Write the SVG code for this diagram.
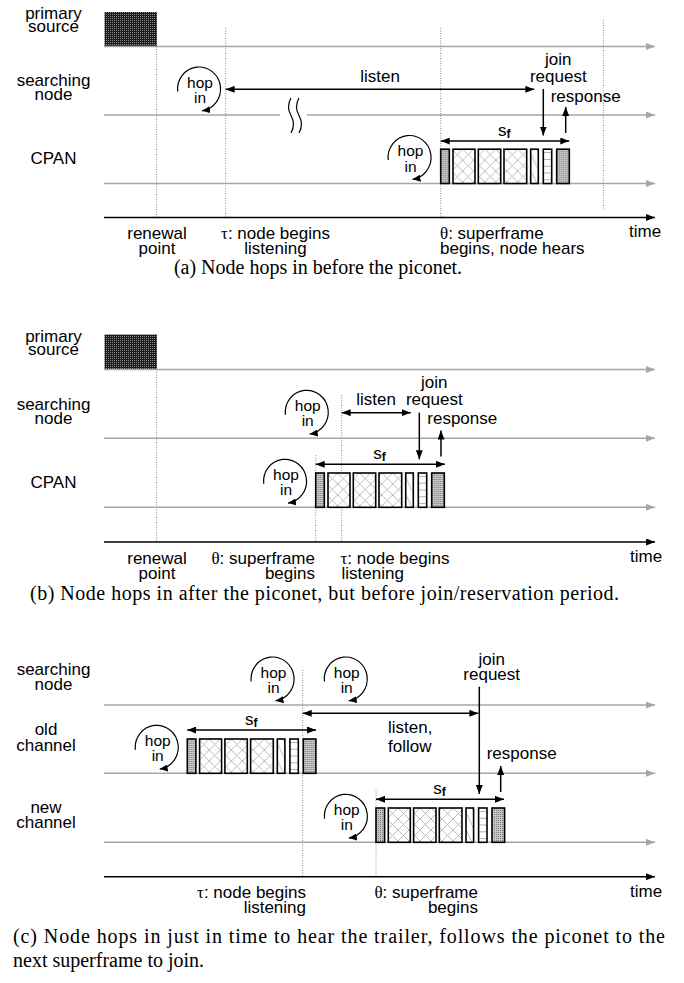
<svg xmlns="http://www.w3.org/2000/svg" xmlns:xlink="http://www.w3.org/1999/xlink" width="684" height="983" viewBox="0 0 684 983">
<style>
.lb{font-family:"Liberation Sans",Arial,sans-serif;font-size:17px;fill:#000}
.hp{font-family:"Liberation Sans",Arial,sans-serif;font-size:15.5px;fill:#000;text-anchor:middle}
.c{text-anchor:middle}
.e{text-anchor:end}
.gr{font-family:"Liberation Serif","Times New Roman",serif}
.cap{font-family:"Liberation Serif","Times New Roman",serif;font-size:20px;fill:#000}
.lane{stroke:#a6a6a6;stroke-width:1.4;fill:none}
.axis{stroke:#000;stroke-width:1.5;fill:none}
.dot{stroke:#8c8c8c;stroke-width:1;stroke-dasharray:1 1.5;fill:none}
.arr{stroke:#000;stroke-width:1.5;fill:none}
.hop{stroke:#000;stroke-width:1.2;fill:none}
.blk{stroke:#000;stroke-width:1.6}
</style>
<defs>
<marker id="ah" viewBox="0 0 9 7" refX="9" refY="3.5" markerWidth="9" markerHeight="7" markerUnits="userSpaceOnUse" orient="auto-start-reverse"><path d="M0,0L9,3.5L0,7z" fill="#000"/></marker>
<marker id="ag" viewBox="0 0 9 7" refX="9" refY="3.5" markerWidth="9" markerHeight="7" markerUnits="userSpaceOnUse" orient="auto"><path d="M0,0L9,3.5L0,7z" fill="#a6a6a6"/></marker>
<marker id="ahh" viewBox="0 0 8 7" refX="8" refY="3.5" markerWidth="8" markerHeight="7" markerUnits="userSpaceOnUse" orient="auto"><path d="M0,0L8,3.5L0,7z" fill="#000"/></marker>
<pattern id="pDark" width="2" height="2" patternUnits="userSpaceOnUse"><rect width="2" height="2" fill="#1c1c1c"/><rect width="1" height="1" fill="#8a8a8a"/></pattern>
<pattern id="pLight" width="2" height="2" patternUnits="userSpaceOnUse"><rect width="2" height="2" fill="#c6c6c6"/><rect width="1" height="1" fill="#7c7c7c"/></pattern>
<pattern id="pX" width="11" height="11" patternUnits="userSpaceOnUse"><rect width="11" height="11" fill="#fff"/><path d="M0,0L11,11M11,0L0,11" stroke="#b4b4b4" stroke-width="0.9"/></pattern>
<pattern id="pD" width="8" height="17" patternUnits="userSpaceOnUse"><rect width="8" height="17" fill="#fff"/><path d="M0,0L8,17" stroke="#b4b4b4" stroke-width="0.9"/></pattern>
<pattern id="pH" width="8" height="6.8" patternUnits="userSpaceOnUse"><rect width="8" height="6.8" fill="#fff"/><path d="M0,3.4H8" stroke="#a8a8a8" stroke-width="0.9"/></pattern>
<g id="sf">
<rect class="blk" x="0" y="0" width="8.6" height="34.3" fill="url(#pLight)"/>
<rect class="blk" x="12.3" y="0" width="22" height="34.3" fill="url(#pX)"/>
<rect class="blk" x="37.6" y="0" width="22.4" height="34.3" fill="url(#pX)"/>
<rect class="blk" x="63.3" y="0" width="22.7" height="34.3" fill="url(#pX)"/>
<rect class="blk" x="90" y="0" width="7.6" height="34.3" fill="url(#pD)"/>
<rect class="blk" x="102.6" y="0" width="8.4" height="34.3" fill="url(#pH)"/>
<rect class="blk" x="116" y="0" width="12.6" height="34.3" fill="url(#pLight)"/>
</g>
</defs>
<rect width="684" height="983" fill="#fff"/>

<!-- ================= PANEL A ================= -->
<g id="panel-a">
<g id="a-labels">
<text class="lb c" x="53.5" y="18.5">primary</text>
<text class="lb c" x="53.5" y="31.5">source</text>
<text class="lb c" x="53.5" y="86">searching</text>
<text class="lb c" x="53.5" y="100">node</text>
<text class="lb c" x="53.5" y="164">CPAN</text>
</g>
<g id="a-source"><rect x="104.5" y="12" width="52.5" height="34.5" fill="url(#pDark)"/></g>
<g id="a-lanes">
<line class="lane" x1="104" y1="46.5" x2="655" y2="46.5" marker-end="url(#ag)"/>
<line class="lane" x1="104" y1="115" x2="280" y2="115"/>
<line class="lane" x1="307" y1="115" x2="655" y2="115" marker-end="url(#ag)"/>
<line class="lane" x1="104" y1="183.5" x2="655" y2="183.5" marker-end="url(#ag)"/>
<path class="hop" d="M291,98q-5,8.75 0,17.5q5,8.75 0,17.5M299,98q-5,8.75 0,17.5q5,8.75 0,17.5"/>
</g>
<g id="a-dotted">
<line class="dot" x1="156.7" y1="46.5" x2="156.7" y2="217"/>
<line class="dot" x1="225.7" y1="28" x2="225.7" y2="217"/>
<line class="dot" x1="440.7" y1="28" x2="440.7" y2="217"/>
<line class="dot" x1="603.3" y1="20" x2="603.3" y2="210"/>
</g>
<g id="a-axis">
<line class="axis" x1="104" y1="217.5" x2="655" y2="217.5" marker-end="url(#ah)"/>
<text class="lb c" x="157" y="239">renewal</text>
<text class="lb c" x="157" y="254">point</text>
<text class="lb c" x="275.5" y="239"><tspan class="gr">τ</tspan>: node begins</text>
<text class="lb c" x="275.5" y="254">listening</text>
<text class="lb" x="440" y="239"><tspan class="gr">θ</tspan>: superframe</text>
<text class="lb" x="440" y="254">begins, node hears</text>
<text class="lb" x="629" y="237">time</text>
</g>
<g id="a-hop-search" transform="translate(199,89)">
<path class="hop" d="M-21.3,2.5A21.5 22 0 1 1 3,21.8" marker-end="url(#ahh)"/>
<text class="hp" x="1" y="-1.5">hop</text><text class="hp" x="1" y="14">in</text>
</g>
<g id="a-hop-cpan" transform="translate(409.5,157.5)">
<path class="hop" d="M-21.3,2.5A21.5 22 0 1 1 3,21.8" marker-end="url(#ahh)"/>
<text class="hp" x="1" y="-1.5">hop</text><text class="hp" x="1" y="14">in</text>
</g>
<g id="a-superframe">
<use xlink:href="#sf" href="#sf" x="440.7" y="149.2"/>
<text class="lb" x="498" y="136">s<tspan font-size="12" font-weight="bold" dy="1.5">f</tspan></text>
</g>
<g id="a-connectors">
<line class="arr" x1="225.7" y1="89.3" x2="534.3" y2="89.3" marker-start="url(#ah)" marker-end="url(#ah)"/>
<text class="lb c" x="380" y="82">listen</text>
<line class="arr" x1="440.7" y1="141" x2="569.3" y2="141" marker-start="url(#ah)" marker-end="url(#ah)"/>
<line class="arr" x1="543.3" y1="89" x2="543.3" y2="135.5" marker-end="url(#ah)"/>
<line class="arr" x1="565.7" y1="133" x2="565.7" y2="107" marker-end="url(#ah)"/>
<text class="lb c" x="558.3" y="65">join</text>
<text class="lb c" x="558.3" y="81.7">request</text>
<text class="lb" x="550.7" y="101.7">response</text>
</g>
<text class="cap c" x="318" y="274">(a) Node hops in before the piconet.</text>
</g>

<!-- ================= PANEL B ================= -->
<g id="panel-b">
<g id="b-labels">
<text class="lb c" x="53.5" y="341.5">primary</text>
<text class="lb c" x="53.5" y="354.5">source</text>
<text class="lb c" x="53.5" y="409.5">searching</text>
<text class="lb c" x="53.5" y="423.5">node</text>
<text class="lb c" x="53.5" y="487.5">CPAN</text>
</g>
<g id="b-source"><rect x="104.5" y="334.5" width="52.5" height="35" fill="url(#pDark)"/></g>
<g id="b-lanes">
<line class="lane" x1="104" y1="369.5" x2="655" y2="369.5" marker-end="url(#ag)"/>
<line class="lane" x1="104" y1="438.3" x2="655" y2="438.3" marker-end="url(#ag)"/>
<line class="lane" x1="104" y1="507.3" x2="655" y2="507.3" marker-end="url(#ag)"/>
</g>
<g id="b-dotted">
<line class="dot" x1="156.7" y1="369.5" x2="156.7" y2="541"/>
<line class="dot" x1="315.7" y1="455" x2="315.7" y2="541"/>
<line class="dot" x1="341.7" y1="395" x2="341.7" y2="541"/>
</g>
<g id="b-axis">
<line class="axis" x1="104" y1="542" x2="655" y2="542" marker-end="url(#ah)"/>
<text class="lb c" x="157" y="563.5">renewal</text>
<text class="lb c" x="157" y="578.5">point</text>
<text class="lb e" x="315" y="563.5"><tspan class="gr">θ</tspan>: superframe</text>
<text class="lb e" x="315" y="578.5">begins</text>
<text class="lb" x="340.5" y="563.5"><tspan class="gr">τ</tspan>: node begins</text>
<text class="lb" x="341.5" y="578.5">listening</text>
<text class="lb" x="630" y="562">time</text>
</g>
<g id="b-hop-search" transform="translate(306.7,412.3)">
<path class="hop" d="M-21.3,2.5A21.5 22 0 1 1 3,21.8" marker-end="url(#ahh)"/>
<text class="hp" x="1" y="-1.5">hop</text><text class="hp" x="1" y="14">in</text>
</g>
<g id="b-hop-cpan" transform="translate(285,481.3)">
<path class="hop" d="M-21.3,2.5A21.5 22 0 1 1 3,21.8" marker-end="url(#ahh)"/>
<text class="hp" x="1" y="-1.5">hop</text><text class="hp" x="1" y="14">in</text>
</g>
<g id="b-superframe">
<use xlink:href="#sf" href="#sf" x="315.7" y="473"/>
<text class="lb" x="373.3" y="459.3">s<tspan font-size="12" font-weight="bold" dy="1.5">f</tspan></text>
</g>
<g id="b-connectors">
<line class="arr" x1="341.7" y1="412.7" x2="410.7" y2="412.7" marker-start="url(#ah)" marker-end="url(#ah)"/>
<text class="lb c" x="376" y="405">listen</text>
<line class="arr" x1="315.7" y1="464.3" x2="445" y2="464.3" marker-start="url(#ah)" marker-end="url(#ah)"/>
<line class="arr" x1="419.3" y1="412.7" x2="419.3" y2="459.3" marker-end="url(#ah)"/>
<line class="arr" x1="441" y1="456.5" x2="441" y2="430.5" marker-end="url(#ah)"/>
<text class="lb c" x="434.3" y="388.4">join</text>
<text class="lb c" x="434.3" y="405">request</text>
<text class="lb" x="427.3" y="424">response</text>
</g>
<text class="cap" x="30" y="600" textLength="589" lengthAdjust="spacing">(b) Node hops in after the piconet, but before join/reservation period.</text>
</g>

<!-- ================= PANEL C ================= -->
<g id="panel-c">
<g id="c-labels">
<text class="lb c" x="53.5" y="675">searching</text>
<text class="lb c" x="53.5" y="689.5">node</text>
<text class="lb c" x="46" y="735">old</text>
<text class="lb c" x="46" y="751">channel</text>
<text class="lb c" x="46" y="812.5">new</text>
<text class="lb c" x="46" y="828">channel</text>
</g>
<g id="c-lanes">
<line class="lane" x1="104" y1="705" x2="655" y2="705" marker-end="url(#ag)"/>
<line class="lane" x1="104" y1="773.3" x2="655" y2="773.3" marker-end="url(#ag)"/>
<line class="lane" x1="104" y1="842.3" x2="655" y2="842.3" marker-end="url(#ag)"/>
</g>
<g id="c-dotted">
<line class="dot" x1="302.7" y1="670" x2="302.7" y2="876"/>
<line class="dot" x1="376" y1="790" x2="376" y2="876"/>
</g>
<g id="c-axis">
<line class="axis" x1="104" y1="876.7" x2="655" y2="876.7" marker-end="url(#ah)"/>
<text class="lb e" x="306" y="898"><tspan class="gr">τ</tspan>: node begins</text>
<text class="lb e" x="306" y="913">listening</text>
<text class="lb e" x="478" y="898"><tspan class="gr">θ</tspan>: superframe</text>
<text class="lb e" x="478" y="913">begins</text>
<text class="lb" x="630" y="896.5">time</text>
</g>
<g id="c-hop-search1" transform="translate(272.5,679)">
<path class="hop" d="M-21.3,2.5A21.5 22 0 1 1 3,21.8" marker-end="url(#ahh)"/>
<text class="hp" x="1" y="-1.5">hop</text><text class="hp" x="1" y="14">in</text>
</g>
<g id="c-hop-search2" transform="translate(345.7,679)">
<path class="hop" d="M-21.3,2.5A21.5 22 0 1 1 3,21.8" marker-end="url(#ahh)"/>
<text class="hp" x="1" y="-1.5">hop</text><text class="hp" x="1" y="14">in</text>
</g>
<g id="c-hop-old" transform="translate(156.7,747.3)">
<path class="hop" d="M-21.3,2.5A21.5 22 0 1 1 3,21.8" marker-end="url(#ahh)"/>
<text class="hp" x="1" y="-1.5">hop</text><text class="hp" x="1" y="14">in</text>
</g>
<g id="c-hop-new" transform="translate(345.8,816.3)">
<path class="hop" d="M-21.3,2.5A21.5 22 0 1 1 3,21.8" marker-end="url(#ahh)"/>
<text class="hp" x="1" y="-1.5">hop</text><text class="hp" x="1" y="14">in</text>
</g>
<g id="c-superframe-old">
<use xlink:href="#sf" href="#sf" x="187.3" y="739"/>
<text class="lb" x="245" y="725">s<tspan font-size="12" font-weight="bold" dy="1.5">f</tspan></text>
</g>
<g id="c-superframe-new">
<use xlink:href="#sf" href="#sf" x="376" y="808"/>
<text class="lb" x="433.3" y="794">s<tspan font-size="12" font-weight="bold" dy="1.5">f</tspan></text>
</g>
<g id="c-connectors">
<line class="arr" x1="302.7" y1="713.3" x2="478.3" y2="713.3" marker-start="url(#ah)" marker-end="url(#ah)"/>
<text class="lb" x="388" y="733.3">listen,</text>
<text class="lb" x="388" y="751.7">follow</text>
<line class="arr" x1="187.3" y1="730" x2="316" y2="730" marker-start="url(#ah)" marker-end="url(#ah)"/>
<line class="arr" x1="376" y1="799.3" x2="504" y2="799.3" marker-start="url(#ah)" marker-end="url(#ah)"/>
<line class="arr" x1="479.3" y1="686.7" x2="479.3" y2="794" marker-end="url(#ah)"/>
<line class="arr" x1="500.7" y1="792" x2="500.7" y2="766" marker-end="url(#ah)"/>
<text class="lb c" x="491.7" y="665">join</text>
<text class="lb c" x="491.7" y="680">request</text>
<text class="lb" x="486.7" y="759.3">response</text>
</g>
<text class="cap" x="13" y="943" textLength="652" lengthAdjust="spacing">(c) Node hops in just in time to hear the trailer, follows the piconet to the</text>
<text class="cap" x="13" y="967">next superframe to join.</text>
</g>
</svg>
